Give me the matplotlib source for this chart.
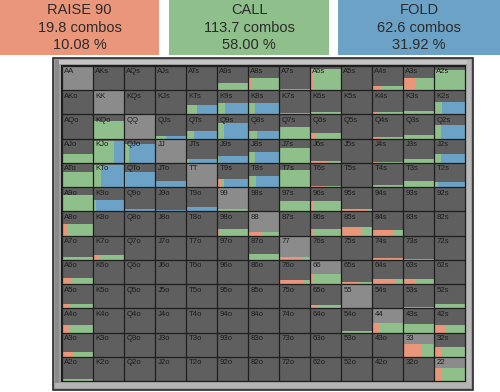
import matplotlib
matplotlib.use("Agg")
from matplotlib import pyplot as plt
from matplotlib.patches import Rectangle

plt.rcParams['font.family'] = ['Liberation Sans', 'DejaVu Sans']

RANKS = ["A", "K", "Q", "J", "T", "9", "8", "7", "6", "5", "4", "3", "2"]

header_titles = ["RAISE 90", "CALL", "FOLD"]
header_combos = [19.8, 113.7, 62.6]
header_pcts = [10.08, 58.00, 31.92]

# bar height (share of the cell) per hand
weight = [
    [0, 0, 0, 0, 0, .28, .50, .07, .88, 0, .18, .51, .83],
    [0, 0, 0, 0, .37, .47, .47, .07, .10, 0, .12, .15, .50],
    [0, .75, 0, .12, .32, .63, .32, .50, .25, 0, .07, .15, .55],
    [.36, .90, .78, 0, .15, .30, .47, .60, .08, 0, .05, .15, .37],
    [.63, .90, .63, .27, 0, .33, .45, .70, .05, 0, .07, .25, .20],
    [.67, .45, .10, .04, .20, .10, 0, .43, .43, .10, 0, 0, 0],
    [.50, 0, 0, 0, 0, .27, .13, 0, .27, .37, .25, 0, 0],
    [.13, .22, 0, 0, 0, 0, .25, .12, 0, 0, .07, .05, 0],
    [.27, 0, 0, 0, 0, 0, 0, .17, .40, .10, .23, .23, 0],
    [.17, 0, 0, 0, 0, 0, 0, 0, .12, 0, 0, .05, .17],
    [.30, 0, 0, 0, 0, 0, 0, 0, 0, .05, .40, .36, .30],
    [.20, 0, 0, 0, 0, 0, 0, 0, 0, 0, 0, .52, .40],
    [.07, 0, 0, 0, 0, 0, 0, 0, 0, 0, 0, 0, .52],
]

# raise share of the bar
raise_frac = [
    [0, 0, 0, 0, 0, 0, .10, 0, .13, 0, .32, .43, .04],
    [0, 0, 0, 0, 0, 0, .07, .07, 0, 0, .16, 0, .05],
    [0, .04, 0, 0, 0, 0, .06, 0, .16, 0, .30, 0, .04],
    [0, .03, 0, 0, 0, .04, .07, 0, .60, 0, .20, 0, .03],
    [0, .02, 0, 0, 0, .14, .05, 0, .50, 0, 0, 0, .08],
    [0, .04, 0, 0, 0, .03, 0, 0, .12, .88, 0, 0, 0],
    [.17, 0, 0, 0, 0, .07, .45, 0, .10, .69, .72, 0, 0],
    [0, .18, 0, 0, 0, 0, .05, .70, 0, 0, 1, 1, 0],
    [.30, 0, 0, 0, 0, 0, 0, .80, .12, .60, .78, .42, 0],
    [.27, 0, 0, 0, 0, 0, 0, 0, .25, 0, 0, 1, 0],
    [.25, 0, 0, 0, 0, 0, 0, 0, 0, 0, .25, .02, .37],
    [.36, 0, 0, 0, 0, 0, 0, 0, 0, 0, 0, .57, .24],
    [0, 0, 0, 0, 0, 0, 0, 0, 0, 0, 0, 0, .22],
]

# call share of the bar (fold is the rest)
call_frac = [
    [0, 0, 0, 0, 0, 1, .90, 1, .87, 0, .68, .57, .96],
    [0, 0, 0, 0, .37, .25, .14, .93, 1, 0, .84, 1, .20],
    [0, .96, 0, .35, .25, .23, .22, 1, .84, 0, .70, 1, .20],
    [1, .64, .16, 0, .10, .04, .14, 1, .40, 0, .80, 1, .20],
    [1, .25, .05, 0, 0, .10, .20, 1, .50, 0, 1, 1, .05],
    [1, .06, 0, 0, 0, .97, 0, 1, .88, .12, 0, 0, 0],
    [.83, 0, 0, 0, 0, .93, .55, 0, .90, .31, .28, 0, 0],
    [1, .82, 0, 0, 0, 0, .95, .30, 0, 0, 0, 0, 0],
    [.70, 0, 0, 0, 0, 0, 0, .20, .88, .40, .22, .58, 0],
    [.73, 0, 0, 0, 0, 0, 0, 0, .75, 0, 0, 0, 1],
    [.75, 0, 0, 0, 0, 0, 0, 0, 0, 1, .75, .98, .63],
    [.64, 0, 0, 0, 0, 0, 0, 0, 0, 0, 0, .43, .76],
    [1, 0, 0, 0, 0, 0, 0, 0, 0, 0, 0, 0, .78],
]

RED = "#E9967A"
GREEN = "#8FBF8A"
BLUE = "#6CA2C5"
W, H = 500, 392


def px_axes(x0, y0, x1, y1):
    return fig.add_axes([x0 / W, 1 - y1 / H, (x1 - x0) / W, (y1 - y0) / H])


def hand_name(i, j):
    if i == j:
        return RANKS[i] * 2
    if i < j:
        return RANKS[i] + RANKS[j] + "s"
    return RANKS[j] + RANKS[i] + "o"


fig = plt.figure(figsize=(W / 100, H / 100), dpi=100)

# header boxes
for k, (x0, x1, col) in enumerate([(0, 159, RED), (169, 329, GREEN), (338, 500, BLUE)]):
    hax = px_axes(x0, 0, x1, 55)
    hax.set_xlim(0, 1)
    hax.set_ylim(1, 0)
    hax.set_facecolor(col)
    hax.set_xticks([])
    hax.set_yticks([])
    for s in hax.spines.values():
        s.set_visible(False)
    lines = [header_titles[k], f"{header_combos[k]:.1f} combos", f"{header_pcts[k]:.2f} %"]
    for n, txt in enumerate(lines):
        hax.text(0.5, 0.19 + n * 0.31, txt, ha="center", va="center",
                 fontsize=10.5, color="#2b2b2b")

# bevel frame around the grid
fax = px_axes(0, 0, W, H)
fax.set_xlim(0, W)
fax.set_ylim(H, 0)
fax.axis("off")
fax.add_patch(Rectangle((53, 58), 420, 332, fc="#9c9c9c", ec="#2a2a2a", lw=1.2))
fax.add_patch(Rectangle((55, 60), 416, 4, fc="#c4c4c4", ec="none"))
fax.add_patch(Rectangle((55, 60), 4, 328, fc="#8a8a8a", ec="none"))
fax.add_patch(Rectangle((467, 60), 4, 328, fc="#b8b8b8", ec="none"))
fax.add_patch(Rectangle((55, 383), 416, 5, fc="#b4b4b4", ec="none"))
fax.add_patch(Rectangle((61, 65), 405, 317, fc="#1e1e1e", ec="none"))

ax = px_axes(62, 66, 465, 381)
ax.set_xlim(0, 13)
ax.set_ylim(13, 0)
ax.axis("off")

for i in range(13):
    for j in range(13):
        bg = "#8b8b8b" if i == j else "#5f5f5f"
        ax.add_patch(Rectangle((j, i), 1, 1, fc=bg, ec="none"))
        h = weight[i][j]
        if h > 0:
            r = raise_frac[i][j]
            c = call_frac[i][j]
            f = max(0.0, 1 - r - c)
            left = j
            for share, col in [(r, RED), (c, GREEN), (f, BLUE)]:
                if share > 0:
                    ax.add_patch(Rectangle((left, i + 1 - h), share, h, fc=col, ec="none"))
                    left += share
        ax.text(j + 0.08, i + 0.1, hand_name(i, j), ha="left", va="top",
                fontsize=5.6, color="#1c1c1c")

ax.vlines(range(14), 0, 13, colors="#1e1e1e", lw=0.9)
ax.hlines(range(14), 0, 13, colors="#1e1e1e", lw=0.9)

fig.savefig("out.png", dpi=100)
